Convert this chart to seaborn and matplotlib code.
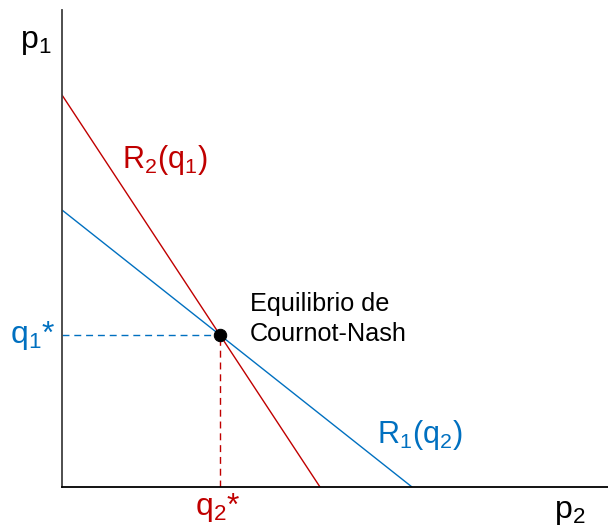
import matplotlib
matplotlib.use("Agg")
import matplotlib.pyplot as plt
import seaborn as sns
import pandas as pd

sns.set_style("white")
plt.rcParams['font.family'] = ['Liberation Sans', 'DejaVu Sans']
plt.rcParams['mathtext.fontset'] = 'custom'
plt.rcParams['mathtext.rm'] = 'Liberation Sans'
plt.rcParams['mathtext.it'] = 'Liberation Sans'

# Data
r2_x = [0.0, 5.16]
r2_y = [7.84, 0.0]
r1_x = [0.0, 7.0]
r1_y = [5.54, 0.0]
eq_x = [3.16]
eq_y = [3.04]

RED = "#C00000"
BLUE = "#0070C0"

fig = plt.figure(figsize=(6.08, 5.29), dpi=100)
ax = fig.add_axes([62/608, 42/529, 546/608, 477/529])

sns.lineplot(x=r2_x, y=r2_y, ax=ax, color=RED, lw=1.0, sort=False, estimator=None)
sns.lineplot(x=r1_x, y=r1_y, ax=ax, color=BLUE, lw=1.0, sort=False, estimator=None)
sns.lineplot(x=[0.0, eq_x[0]], y=[eq_y[0], eq_y[0]], ax=ax, color=BLUE, lw=1.0,
             sort=False, estimator=None, linestyle=(0, (5, 3.5)))
sns.lineplot(x=[eq_x[0], eq_x[0]], y=[0.0, eq_y[0]], ax=ax, color=RED, lw=1.0,
             sort=False, estimator=None, linestyle=(0, (5, 3.5)))
sns.scatterplot(x=eq_x, y=eq_y, ax=ax, color="black", s=80, zorder=5, edgecolor="black")

ax.set_xlim(0, 10.92)
ax.set_ylim(0, 9.54)
ax.set_xticks([])
ax.set_yticks([])
for s in ["top", "right"]:
    ax.spines[s].set_visible(False)
ax.spines["left"].set_color("#404040")
ax.spines["left"].set_linewidth(1.3)
ax.spines["bottom"].set_color("black")
ax.spines["bottom"].set_linewidth(1.3)

kw = dict(clip_on=False, ha="center", va="center")
ax.text(-0.52, 8.9, r"$\mathrm{p_1}$", fontsize=23, color="black", **kw)
ax.text(-0.58, 3.04, r"$\mathrm{q_1}$*", fontsize=23, color=BLUE, **kw)
ax.text(3.12, -0.42, r"$\mathrm{q_2}$*", fontsize=23, color=RED, **kw)
ax.text(10.16, -0.5, r"$\mathrm{p_2}$", fontsize=23, color="black", **kw)
ax.text(2.06, 6.54, r"$\mathrm{R_2(q_1)}$", fontsize=22, color=RED, **kw)
ax.text(7.16, 1.04, r"$\mathrm{R_1(q_2)}$", fontsize=22, color=BLUE, **kw)
ax.text(3.76, 3.36, "Equilibrio de\nCournot-Nash", fontsize=18.2, color="black",
        ha="left", va="center", linespacing=1.3, clip_on=False)

fig.savefig("out.png", dpi=100)
